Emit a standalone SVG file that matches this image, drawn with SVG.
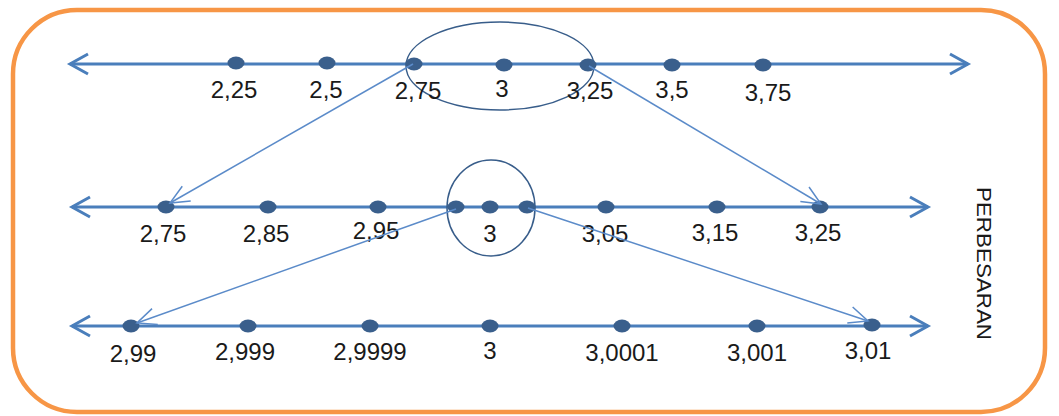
<svg xmlns="http://www.w3.org/2000/svg" width="1059" height="416" viewBox="0 0 1059 416">
<style>
.frame{fill:#ffffff;stroke:#F79646;stroke-width:4.5}
.axis{stroke:#4A7EBB;stroke-width:3;fill:none}
.dot{fill:#3A5F8C}
.ring{fill:none;stroke:#385D8A;stroke-width:1.5}
.conn{stroke:#5B8BC9;stroke-width:1.5;fill:none}
.lbl{font-family:"Liberation Sans",Arial,sans-serif;font-size:24px;fill:#1a1a1a;text-anchor:middle}
.side{font-family:"Liberation Sans",Arial,sans-serif;font-size:21px;fill:#1a1a1a}
</style>
<defs>
<marker id="axhead" markerUnits="userSpaceOnUse" markerWidth="26" markerHeight="26" refX="21" refY="13" orient="auto-start-reverse">
<path d="M3,3 L21,13 L3,23" fill="none" stroke="#4A7EBB" stroke-width="3"/>
</marker>
<marker id="cnhead" markerUnits="userSpaceOnUse" markerWidth="24" markerHeight="22" refX="21" refY="11" orient="auto">
<path d="M2,2.5 L21,11 L2,19.5" fill="none" stroke="#5B8BC9" stroke-width="1.5"/>
</marker>
</defs>
<rect class="frame" x="13" y="10" width="1032" height="402" rx="64" ry="64"/>

<g id="row-top">
<line class="axis" x1="70" y1="64" x2="968" y2="64" marker-start="url(#axhead)" marker-end="url(#axhead)"/>
<ellipse class="ring" cx="500" cy="66" rx="94" ry="44"/>
<ellipse class="dot" cx="236" cy="63" rx="8.5" ry="6.5"/>
<ellipse class="dot" cx="327" cy="63" rx="8.5" ry="6.5"/>
<ellipse class="dot" cx="414" cy="64" rx="8.5" ry="6.5"/>
<ellipse class="dot" cx="504" cy="65" rx="8.5" ry="6.5"/>
<ellipse class="dot" cx="588" cy="65" rx="8.5" ry="6.5"/>
<ellipse class="dot" cx="672" cy="65" rx="8.5" ry="6.5"/>
<ellipse class="dot" cx="763" cy="65" rx="8.5" ry="6.5"/>
<text class="lbl" x="234" y="98">2,25</text>
<text class="lbl" x="326" y="98">2,5</text>
<text class="lbl" x="418" y="99">2,75</text>
<text class="lbl" x="502" y="97">3</text>
<text class="lbl" x="590" y="99">3,25</text>
<text class="lbl" x="672" y="98">3,5</text>
<text class="lbl" x="768" y="101">3,75</text>
</g>

<g id="row-middle">
<line class="axis" x1="72" y1="207" x2="928" y2="207" marker-start="url(#axhead)" marker-end="url(#axhead)"/>
<ellipse class="ring" cx="491" cy="208" rx="44" ry="48"/>
<ellipse class="dot" cx="166" cy="207" rx="8.5" ry="6.5"/>
<ellipse class="dot" cx="268" cy="207" rx="8.5" ry="6.5"/>
<ellipse class="dot" cx="378" cy="207" rx="8.5" ry="6.5"/>
<ellipse class="dot" cx="456" cy="207" rx="8.5" ry="6.5"/>
<ellipse class="dot" cx="490" cy="207" rx="8.5" ry="6.5"/>
<ellipse class="dot" cx="527" cy="207" rx="8.5" ry="6.5"/>
<ellipse class="dot" cx="606" cy="207" rx="8.5" ry="6.5"/>
<ellipse class="dot" cx="717" cy="207" rx="8.5" ry="6.5"/>
<ellipse class="dot" cx="820" cy="207" rx="8.5" ry="6.5"/>
<text class="lbl" x="163" y="242">2,75</text>
<text class="lbl" x="266" y="242">2,85</text>
<text class="lbl" x="376" y="239">2,95</text>
<text class="lbl" x="490" y="242">3</text>
<text class="lbl" x="605" y="242">3,05</text>
<text class="lbl" x="715" y="241">3,15</text>
<text class="lbl" x="818" y="241">3,25</text>
</g>

<g id="row-bottom">
<line class="axis" x1="72" y1="326" x2="928" y2="326" marker-start="url(#axhead)" marker-end="url(#axhead)"/>
<ellipse class="dot" cx="131" cy="326" rx="8.5" ry="6.5"/>
<ellipse class="dot" cx="248" cy="326" rx="8.5" ry="6.5"/>
<ellipse class="dot" cx="370" cy="326" rx="8.5" ry="6.5"/>
<ellipse class="dot" cx="490" cy="326" rx="8.5" ry="6.5"/>
<ellipse class="dot" cx="622" cy="326" rx="8.5" ry="6.5"/>
<ellipse class="dot" cx="757" cy="326" rx="8.5" ry="6.5"/>
<ellipse class="dot" cx="872" cy="325" rx="8.5" ry="6.5"/>
<text class="lbl" x="133" y="362">2,99</text>
<text class="lbl" x="245" y="360">2,999</text>
<text class="lbl" x="370" y="360">2,9999</text>
<text class="lbl" x="490" y="359">3</text>
<text class="lbl" x="622" y="361">3,0001</text>
<text class="lbl" x="757" y="361">3,001</text>
<text class="lbl" x="868" y="359">3,01</text>
</g>

<g id="label-perbesaran">
<text class="side" transform="translate(977,187) rotate(90)" textLength="153" lengthAdjust="spacingAndGlyphs">PERBESARAN</text>
</g>

<g id="connectors">
<line class="conn" x1="413" y1="64" x2="170" y2="203" marker-end="url(#cnhead)"/>
<line class="conn" x1="589" y1="66" x2="821" y2="204" marker-end="url(#cnhead)"/>
<line class="conn" x1="456" y1="209" x2="137" y2="323" marker-end="url(#cnhead)"/>
<line class="conn" x1="528" y1="208" x2="868" y2="321" marker-end="url(#cnhead)"/>
</g>
</svg>
